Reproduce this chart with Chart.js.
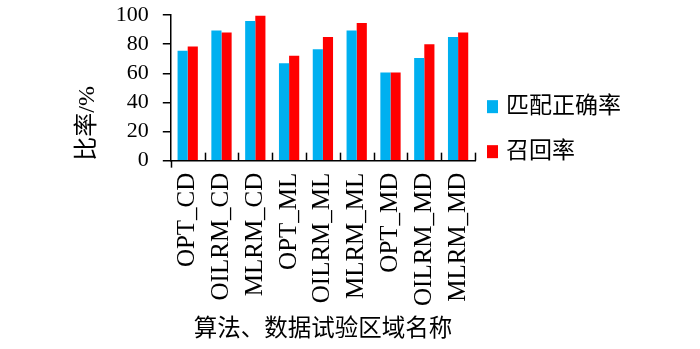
<!DOCTYPE html>
<html lang="zh">
<head>
    <meta charset="UTF-8">
    <title>比率</title>
    <script src="https://cdn.jsdelivr.net/npm/chart.js"></script>
    <style>
        html, body { margin: 0; padding: 0; background: #fff; }
        .wrap { width: 700px; height: 349px; position: relative; }
    </style>
</head>
<body>
    <div class="wrap">
        <canvas id="rateChart"></canvas>
    </div>

    <script>
        // data
        const categories = ['OPT_CD', 'OILRM_CD', 'MLRM_CD', 'OPT_ML', 'OILRM_ML', 'MLRM_ML', 'OPT_MD', 'OILRM_MD', 'MLRM_MD'];
        const matchRate = [75.5, 89.5, 96, 67, 76.5, 89.5, 60.5, 70.5, 85];
        const recallRate = [78.5, 88, 99.5, 72, 85, 94.5, 60.5, 80, 88];
        const yTicks = [0, 20, 40, 60, 80, 100];
        const xAxisName = '算法、数据试验区域名称';

        const fontFamily = "'Liberation Serif', 'Noto Sans CJK SC', serif";

        // small upward ticks between categories, like the original axis
        const boundaryTicks = {
            id: 'boundaryTicks',
            afterDatasetsDraw(chart) {
                const { ctx, chartArea, scales } = chart;
                const x = scales.x;
                ctx.save();
                ctx.strokeStyle = '#000';
                ctx.lineWidth = 1.5;
                for (let i = 0; i <= categories.length; i++) {
                    const px = Math.round(x.getPixelForValue(i - 0.5)) + 0.5;
                    ctx.beginPath();
                    ctx.moveTo(px, chartArea.bottom);
                    ctx.lineTo(px, i === 0 ? chartArea.bottom + 7 : chartArea.bottom - 8);
                    ctx.stroke();
                }
                ctx.restore();
            }
        };

        // legend beside the plot + x axis name centred under the plot
        // (scale title would be squeezed by the tall rotated labels)
        const sideText = {
            id: 'sideText',
            afterDraw(chart) {
                const { ctx, chartArea } = chart;
                ctx.save();
                ctx.textBaseline = 'middle';
                ctx.font = "23px " + fontFamily;
                chart.data.datasets.forEach((ds, i) => {
                    const cy = chartArea.bottom - 54 + i * 45;
                    const bx = chartArea.right + 12;
                    ctx.fillStyle = ds.backgroundColor;
                    ctx.fillRect(bx, cy - 6.5, 11, 13);
                    ctx.fillStyle = '#000';
                    ctx.fillText(ds.label, bx + 19, cy);
                });

                ctx.font = "23.5px " + fontFamily;
                ctx.textAlign = 'center';
                ctx.fillStyle = '#000';
                ctx.fillText(xAxisName, (chartArea.left + chartArea.right) / 2, chart.height - 19);
                ctx.restore();
            }
        };

        const ctx = document.getElementById('rateChart').getContext('2d');
        const rateChart = new Chart(ctx, {
            type: 'bar',
            data: {
                labels: categories,
                datasets: [{
                    label: '匹配正确率',
                    data: matchRate,
                    backgroundColor: '#00B0F0',
                    categoryPercentage: 0.6,
                    barPercentage: 1.0
                }, {
                    label: '召回率',
                    data: recallRate,
                    backgroundColor: '#FF0000',
                    categoryPercentage: 0.6,
                    barPercentage: 1.0
                }]
            },
            options: {
                responsive: true,
                maintainAspectRatio: false,
                animation: false,
                layout: {
                    padding: { left: 72, right: 225, top: 0, bottom: 31 }
                },
                plugins: {
                    legend: { display: false },
                    tooltip: { enabled: false }
                },
                scales: {
                    x: {
                        grid: { display: false, drawTicks: false },
                        border: { color: '#000', width: 1.5 },
                        ticks: {
                            color: '#000',
                            font: { family: fontFamily, size: 25 },
                            minRotation: 90,
                            maxRotation: 90,
                            padding: 12,
                            autoSkip: false
                        }
                    },
                    y: {
                        min: 0,
                        max: 100,
                        afterBuildTicks(scale) {
                            scale.ticks = yTicks.map(v => ({ value: v }));
                        },
                        grid: {
                            drawOnChartArea: false,
                            tickLength: 8,
                            color: '#000',
                            lineWidth: 1.5
                        },
                        border: { color: '#000', width: 1.5 },
                        ticks: {
                            color: '#000',
                            // tiny line height keeps the top label from pushing the plot down
                            font: { family: fontFamily, size: 22, lineHeight: 0.1 },
                            padding: 14,
                            autoSkip: false
                        },
                        title: {
                            display: true,
                            text: '比率/%',
                            align: 'start',
                            color: '#000',
                            font: { family: fontFamily, size: 24 },
                            padding: { top: 1, bottom: 0 }
                        }
                    }
                }
            },
            plugins: [boundaryTicks, sideText]
        });
    </script>
</body>
</html>
